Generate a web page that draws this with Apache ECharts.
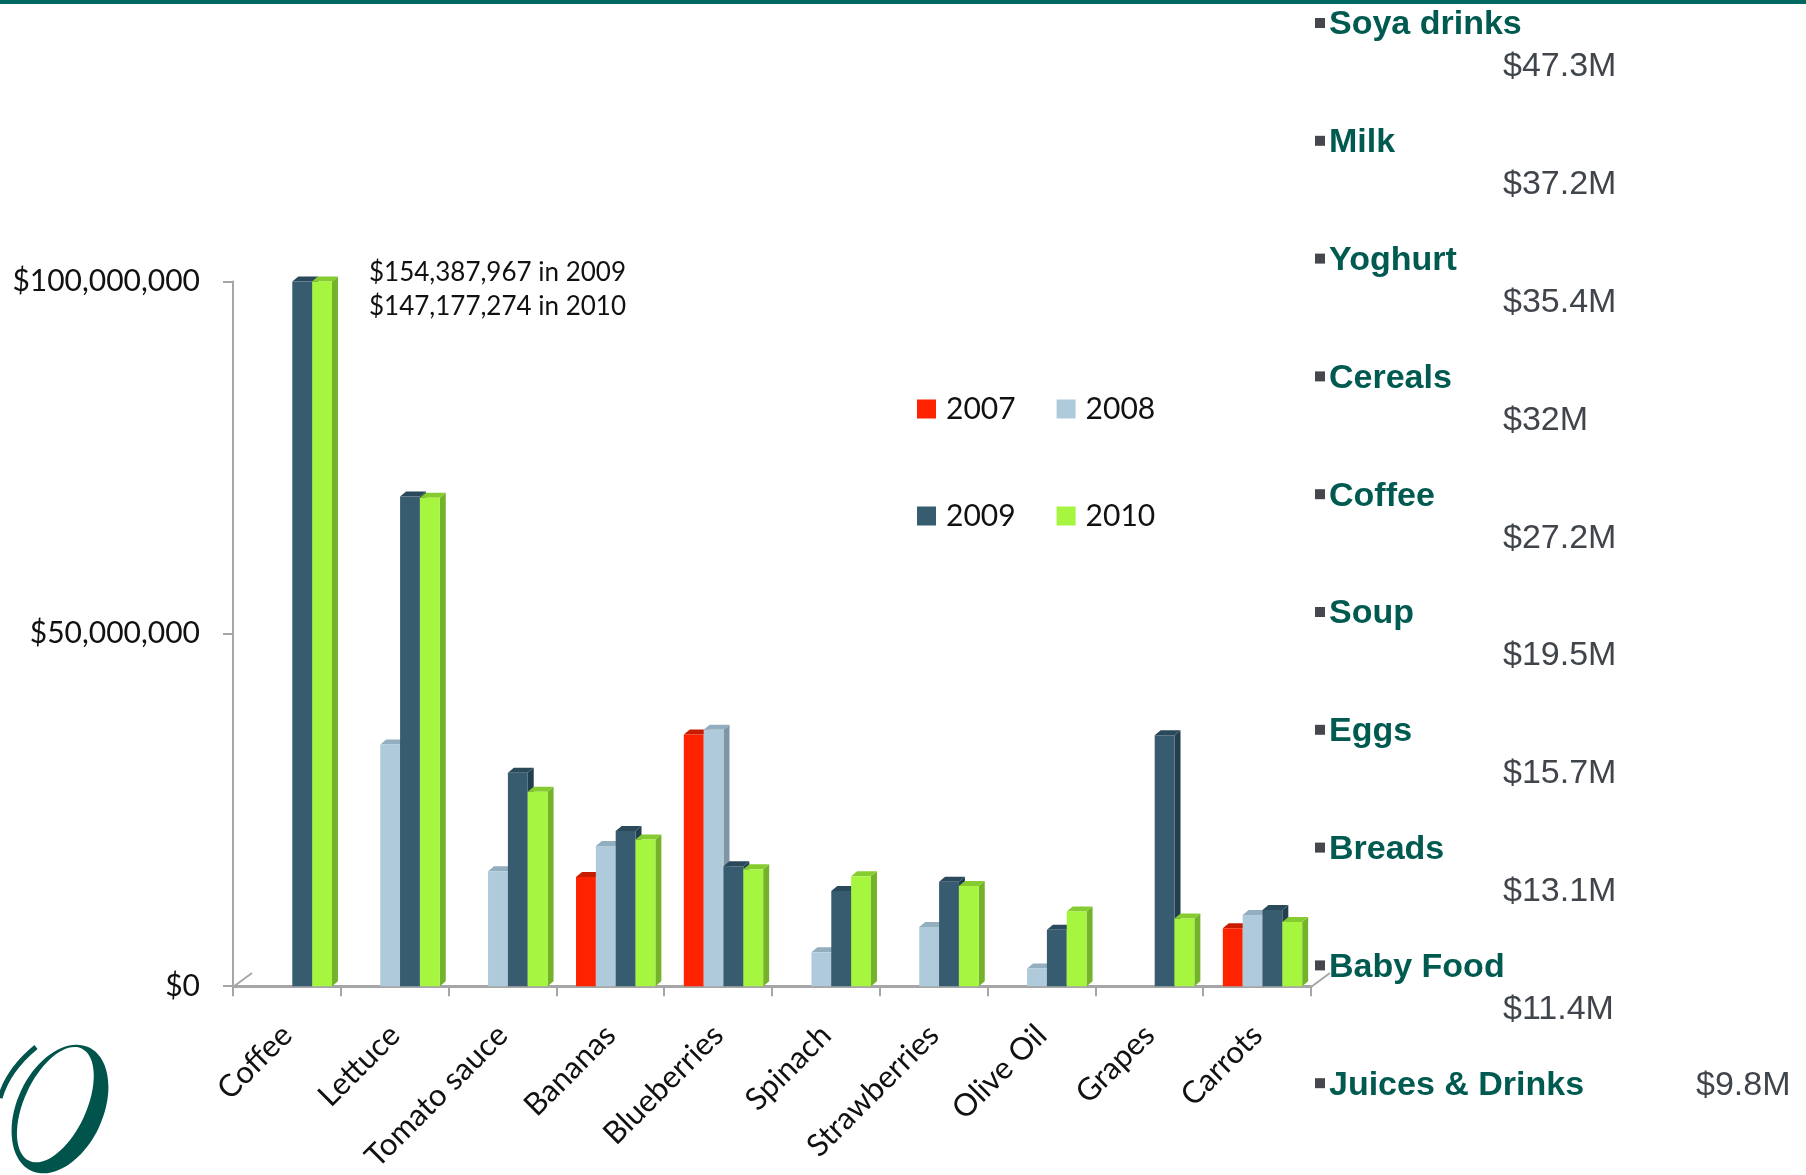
<!DOCTYPE html>
<html>
<head>
<meta charset="utf-8">
<script src="https://cdn.jsdelivr.net/npm/echarts@6/dist/echarts.min.js"></script>
<style>
html,body{margin:0;padding:0;background:#fff;}
#main{width:1806px;height:1175px;}
</style>
</head>
<body>
<div id="main"></div>
<script>
// ---------- data ----------
const categories = ['Coffee','Lettuce','Tomato sauce','Bananas','Blueberries','Spinach','Strawberries','Olive Oil','Grapes','Carrots'];
const years = ['2007','2008','2009','2010'];
const sales2007 = [null, null, null, 15500000, 35700000, null, null, null, null, 8200000];
const sales2008 = [null, 34300000, 16300000, 19900000, 36400000, 4800000, 8400000, 2500000, null, 10100000];
const sales2009 = [154387967, 69500000, 30300000, 22000000, 17000000, 13500000, 14800000, 8000000, 35600000, 10800000];
const sales2010 = [147177274, 69300000, 27600000, 20800000, 16600000, 15600000, 14200000, 10600000, 9600000, 9100000];
const yTicks = [0, 50000000, 100000000];
const sideCategories = ['Soya drinks','Milk','Yoghurt','Cereals','Coffee','Soup','Eggs','Breads','Baby Food','Juices & Drinks'];
const sideValues = ['$47.3M','$37.2M','$35.4M','$32M','$27.2M','$19.5M','$15.7M','$13.1M','$11.4M','$9.8M'];

// ---------- styles ----------
const frontColors = ['#FF2200','#AECADB','#375B6F','#A6F53F'];
const sideColors  = ['#B51800','#7D95A5','#223F4F','#74B22A'];
const topColors   = ['#C81C00','#93AEBF','#2A4A5C','#86CC30'];
const Y_MAX = yTicks[yTicks.length-1];
const GRID = {left:233, top:281.5, right:495, bottom:188};
const DX = 6, DY = -5;

const chart = echarts.init(document.getElementById('main'), null, {renderer:'canvas'});

function makeRender(slot){
  return function(params, api){
    const ci = api.value(0), v = api.value(1);
    if (v == null || isNaN(v)) return null;
    const base = api.coord([ci, 0]);
    const top = api.coord([ci, Math.min(v, Y_MAX)]);
    const catW = api.size([1,0])[0];
    const bw = catW * 0.184;
    const x0 = base[0] + catW*0.05 + (slot-2)*bw;
    const yb = base[1], yt = top[1];
    return {
      type:'group',
      children:[
        {type:'polygon', shape:{points:[[x0+bw,yt],[x0+bw+DX,yt+DY],[x0+bw+DX,yb+DY],[x0+bw,yb]]}, style:{fill:sideColors[slot]}},
        {type:'polygon', shape:{points:[[x0,yt],[x0+DX,yt+DY],[x0+bw+DX,yt+DY],[x0+bw,yt]]}, style:{fill:topColors[slot]}},
        {type:'rect', shape:{x:x0, y:yt, width:bw, height:yb-yt}, style:{fill:frontColors[slot]}}
      ]
    };
  };
}

const allSeries = [sales2007, sales2008, sales2009, sales2010];
const series = allSeries.map((arr, s) => ({
  name: years[s],
  type: 'custom',
  renderItem: makeRender(s),
  encode: {x:0, y:1},
  clip: false,
  itemStyle: {color: frontColors[s]},
  data: arr.map((v,i) => [i, v]).filter(d => d[1] != null)
}));

const fmt = v => '$' + Number(v).toLocaleString('en-US');

// graphics
const graphics = [];
graphics.push({type:'rect', shape:{x:0, y:0, width:1806, height:4}, style:{fill:'#006860'}, silent:true});
// annotation for clipped Coffee bars
graphics.push({type:'text', style:{text: fmt(sales2009[0]) + ' in ' + years[2], x:369, y:273, font:'26px Lato', fill:'#111', verticalAlign:'middle'}});
graphics.push({type:'text', style:{text: fmt(sales2010[0]) + ' in ' + years[3], x:369, y:307, font:'26px Lato', fill:'#111', verticalAlign:'middle'}});
// side list
sideCategories.forEach((c, i) => {
  const y = 25 + i*117.8;
  graphics.push({type:'rect', shape:{x:1315, y:y-7, width:10, height:10}, style:{fill:'#44474C'}});
  graphics.push({type:'text', style:{text:c, x:1329, y:y, font:'bold 34px "Liberation Sans", Arial', fill:'#005A50', verticalAlign:'middle'}});
  const isLast = i === sideCategories.length-1;
  graphics.push({type:'text', style:{text:sideValues[i], x: isLast ? 1696 : 1503, y: isLast ? y : y + 42, font:'34px "Liberation Sans", Arial', fill:'#40444B', verticalAlign:'middle'}});
});
// floor depth lines
const x0 = GRID.left, x1 = 1806 - GRID.right, yb = 1175 - GRID.bottom;
graphics.push({type:'line', shape:{x1:x0, y1:yb, x2:x0+19, y2:yb-14}, style:{stroke:'#A6A6A6', lineWidth:2}});
graphics.push({type:'line', shape:{x1:x1, y1:yb, x2:x1+19, y2:yb-14}, style:{stroke:'#A6A6A6', lineWidth:2}});
// logo
graphics.push({type:'group', x:60, y:1109, rotation:-25*Math.PI/180, children:[
  {type:'ellipse', shape:{cx:0, cy:0, rx:43, ry:68}, style:{fill:'#00544C'}},
  {type:'ellipse', shape:{cx:-6, cy:-2, rx:31, ry:62}, style:{fill:'#fff'}}
]});
graphics.push({type:'bezierCurve', shape:{x1:0, y1:1098, cpx1:8, cpy1:1070, x2:36, y2:1047}, style:{stroke:'#00544C', lineWidth:5, fill:null}});

const legendBase = {
  icon:'rect', itemWidth:19, itemHeight:19, itemGap:41, padding:0,
  textStyle:{fontFamily:'Lato', fontSize:30, color:'#111', lineHeight:30, padding:[0,0,0,5]},
  selectedMode:false
};

const option = {
  animation:false,
  backgroundColor:'#fff',
  grid:{left:GRID.left, top:GRID.top, right:GRID.right, bottom:GRID.bottom, containLabel:false},
  legend:[
    Object.assign({}, legendBase, {data:[years[0], years[1]], left:917, top:394}),
    Object.assign({}, legendBase, {data:[years[2], years[3]], left:917, top:501})
  ],
  xAxis:{
    type:'category', data:categories, boundaryGap:true,
    axisLine:{show:true, lineStyle:{color:'#A6A6A6', width:3}},
    axisTick:{show:true, alignWithLabel:false, length:10, lineStyle:{color:'#A6A6A6', width:2}},
    axisLabel:{rotate:45, margin:44, fontFamily:'Lato', fontSize:31, color:'#111', interval:0}
  },
  yAxis:{
    type:'value', min:yTicks[0], max:Y_MAX, interval:yTicks[1]-yTicks[0],
    splitLine:{show:false},
    axisLine:{show:true, lineStyle:{color:'#A6A6A6', width:2}},
    axisTick:{show:true, length:10, lineStyle:{color:'#A6A6A6', width:2}},
    axisLabel:{margin:33, fontFamily:'Lato', fontSize:30, color:'#111', formatter: v => fmt(v)}
  },
  series: series,
  graphic: graphics
};
chart.setOption(option);
</script>
</body>
</html>
